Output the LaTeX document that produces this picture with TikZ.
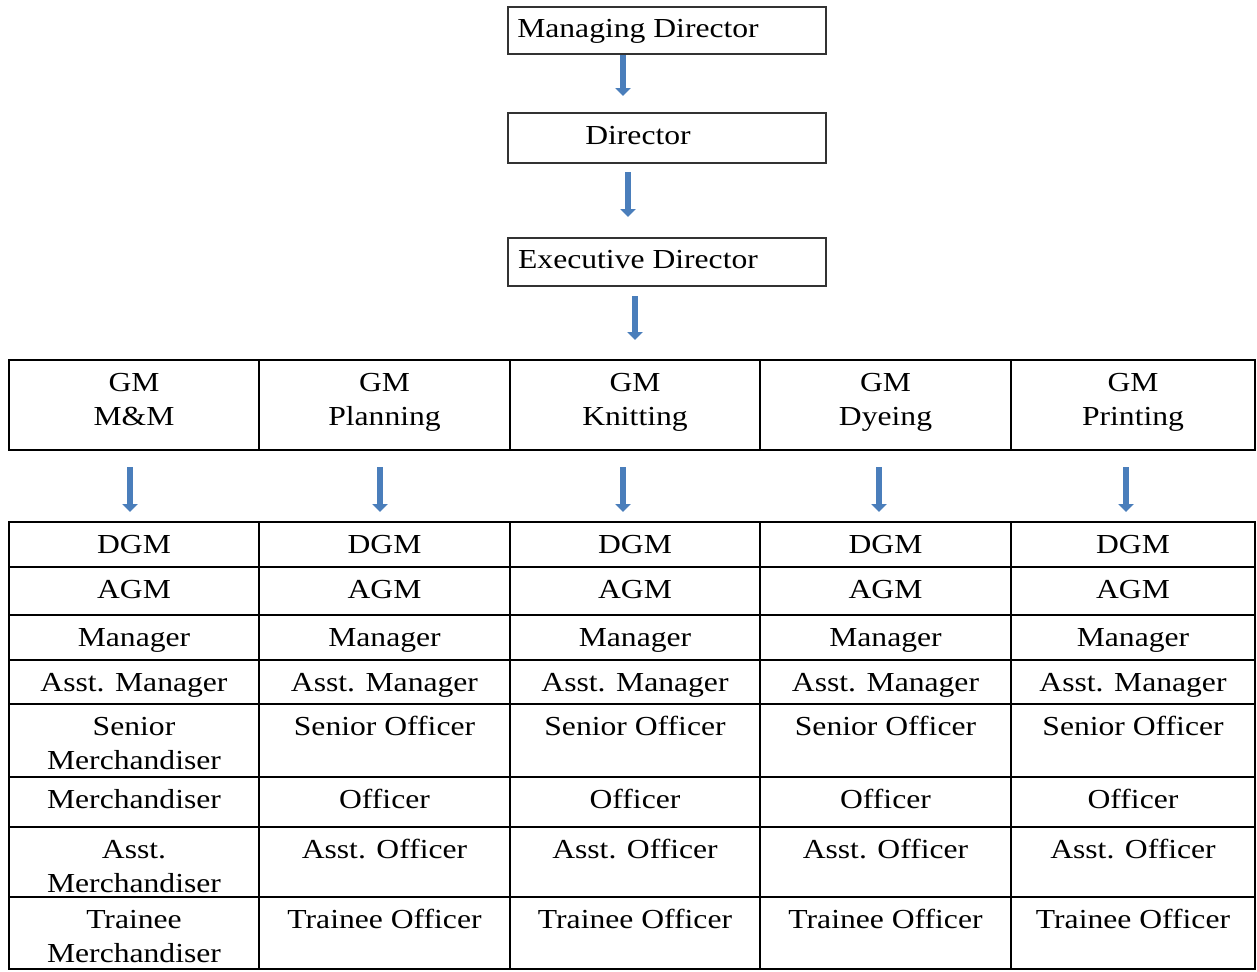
\documentclass[tikz,border=0pt]{standalone}
\usepackage{fontspec}
\setmainfont{Liberation Serif}[FakeStretch=1.15]
\usetikzlibrary{positioning,arrows.meta}
\definecolor{arrowblue}{RGB}{74,126,187}
% fixed size cell, text set from the top
\newcommand\cellbox[3]{\parbox[t][#2][t]{#1}{\centering\rule{0pt}{15.5pt}#3}}

\begin{document}
\begin{tikzpicture}[x=0.5pt, y=-0.5pt, font=\fontsize{13.75pt}{17pt}\selectfont,
    topbox/.style={draw=black!80, line width=0.6pt, minimum width=159pt, text height=10pt, text depth=3.5pt, inner sep=0pt, outer sep=0pt, execute at begin node={\hspace*{-29pt}}},
    cell/.style={draw, line width=0.9pt, inner sep=0pt, outer sep=0pt},
    downarrow/.style={draw=arrowblue, line width=3.4pt, -{Triangle[width=7.5pt,length=4pt]}}]

    \useasboundingbox (0,0) rectangle (1257,971);

    \node [topbox, minimum height=23.5pt] (md) at (667,30.5) {Managing Director};
    \node [topbox, minimum height=25pt] (dir) at (667,138) {Director};
    \node [topbox, minimum height=24pt] (exec) at (667,262) {Executive Director};

    % general managers
    \node [cell, anchor=north west] (gm1) at (9,360) {\cellbox{125pt}{45pt}{GM\\M\&M}};
    \node [cell, right=0pt of gm1] (gm2) {\cellbox{125.5pt}{45pt}{GM\\Planning}};
    \node [cell, right=0pt of gm2] (gm3) {\cellbox{125pt}{45pt}{GM\\Knitting}};
    \node [cell, right=0pt of gm3] (gm4) {\cellbox{125.5pt}{45pt}{GM\\Dyeing}};
    \node [cell, right=0pt of gm4] (gm5) {\cellbox{122pt}{45pt}{GM\\Printing}};

    % first column
    \node [cell, anchor=north west] (cell11) at (9,522) {\cellbox{125pt}{22.5pt}{DGM}};
    \foreach \t/\h [count=\r from 2] in {AGM/24pt, Manager/22.5pt, Asst. Manager/22pt, {Senior\\Merchandiser}/36.5pt, Merchandiser/25pt, {Asst.\\Merchandiser}/35pt, {Trainee\\Merchandiser}/36pt} {
        \pgfmathtruncatemacro\p{\r-1}
        \node [cell, below=0pt of cell1\p] (cell1\r) {\cellbox{125pt}{\h}{\t}};
    }

    % other columns
    \foreach \c/\x/\w in {2/259/125.5pt, 3/510/125pt, 4/760/125.5pt, 5/1011/122pt} {
        \node [cell, anchor=north west] (cell\c1) at (\x,522) {\cellbox{\w}{22.5pt}{DGM}};
        \foreach \t/\h [count=\r from 2] in {AGM/24pt, Manager/22.5pt, Asst. Manager/22pt, Senior Officer/36.5pt, Officer/25pt, Asst. Officer/35pt, Trainee Officer/36pt} {
            \pgfmathtruncatemacro\p{\r-1}
            \node [cell, below=0pt of cell\c\p] (cell\c\r) {\cellbox{\w}{\h}{\t}};
        }
    }

    \draw [downarrow, shorten <=0.5pt, shorten >=8.5pt] ([xshift=-22pt]md.south) -- ([xshift=-22pt]dir.north);
    \draw [downarrow, shorten <=4.5pt, shorten >=10.5pt] ([xshift=-19.5pt]dir.south) -- ([xshift=-19.5pt]exec.north);
    \draw [downarrow, shorten <=5pt, shorten >=10pt] (exec.south -| gm3) -- (gm3.north);
    \foreach \c/\s in {1/-2pt, 2/-2.25pt, 3/-6pt, 4/-3.25pt, 5/-3.5pt}
        \draw [downarrow, shorten <=8.5pt, shorten >=5pt] ([xshift=\s]gm\c.south) -- ([xshift=\s]cell\c1.north);

\end{tikzpicture}
\end{document}
